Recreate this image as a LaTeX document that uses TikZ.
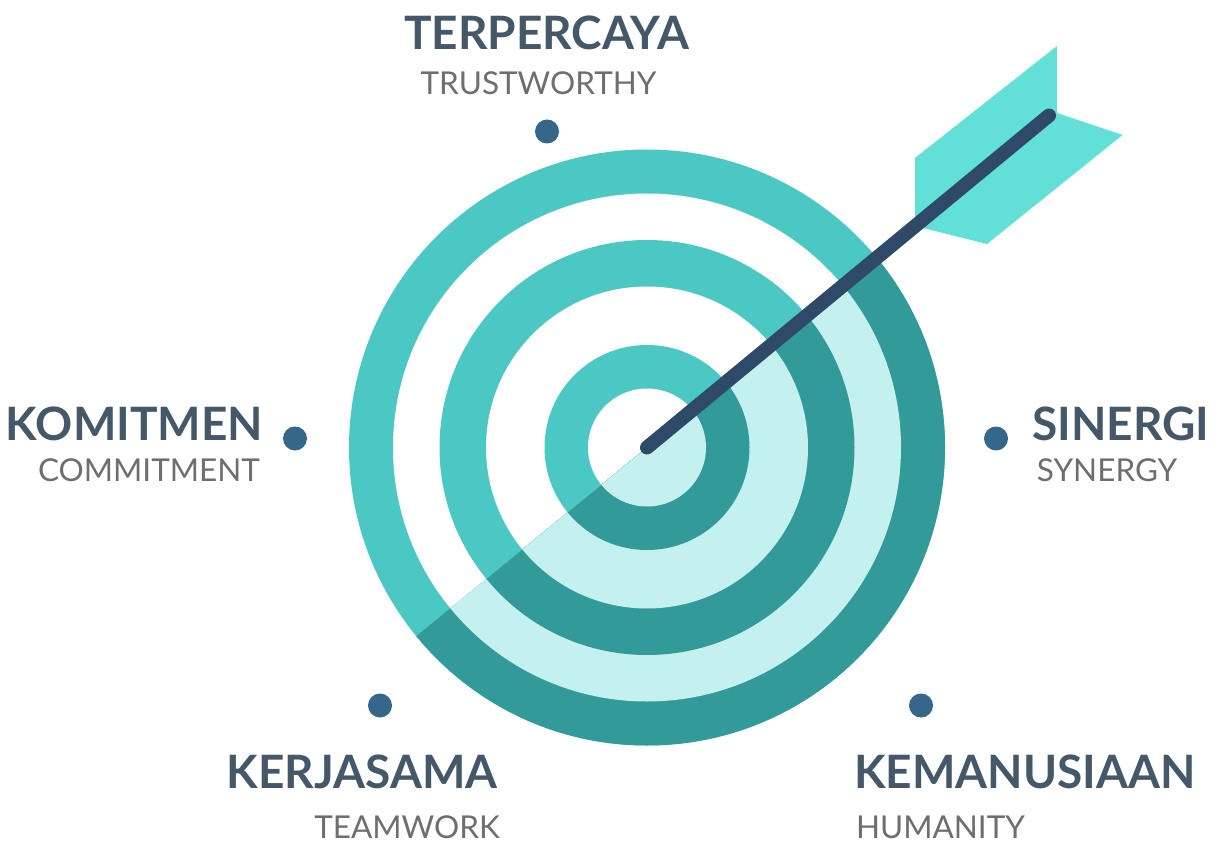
\documentclass[tikz,border=0pt]{standalone}
\usepackage{fontspec}
\setmainfont{Lato}
\usepackage{xcolor}
\definecolor{ringteal}{HTML}{4BC8C4}
\definecolor{ringdark}{HTML}{339A9A}
\definecolor{ringpale}{HTML}{C4F1EF}
\definecolor{finteal}{HTML}{62E0D8}
\definecolor{shaftblue}{HTML}{2E4A68}
\definecolor{dotblue}{HTML}{35678A}
\definecolor{headgrey}{HTML}{44586A}
\definecolor{subgrey}{HTML}{6E6E6E}
\tikzset{
  headlabel/.style={inner sep=0pt, text=headgrey, font=\fontsize{46}{46}\selectfont\bfseries},
  sublabel/.style={inner sep=0pt, text=subgrey, font=\fontsize{31.5}{31.5}\selectfont},
  dotmark/.style={circle, fill=dotblue, minimum size=24pt, inner sep=0pt},
}
\begin{document}
\begin{tikzpicture}[x=1pt,y=-1pt]
      \useasboundingbox (0,0) rectangle (1216,842);
      % upper half of the target
      \fill [ringteal] (647,447.5) circle (298pt);
      \fill [white] (647,447.5) circle (254pt);
      \fill [ringteal] (647,447.5) circle (207.5pt);
      \fill [white] (647,447.5) circle (161pt);
      \fill [ringteal] (647,447.5) circle (102.5pt);
      \fill [white] (647,447.5) circle (59pt);
      % lower half
      \begin{scope}
        \clip (167,840) -- (1127,55) -- (1216,842) -- cycle;
        \fill [ringdark] (647,447.5) circle (298pt);
        \fill [ringpale] (647,447.5) circle (254pt);
        \fill [ringdark] (647,447.5) circle (207.5pt);
        \fill [ringpale] (647,447.5) circle (161pt);
        \fill [ringdark] (647,447.5) circle (102.5pt);
        \fill [ringpale] (647,447.5) circle (59pt);
      \end{scope}
      % arrow
      \fill [finteal] (1057,46) -- (915,158) -- (915,218) -- (1057,113) -- cycle;
      \fill [finteal] (1057,113) -- (1122.5,135) -- (987,244) -- (923,228) -- cycle;
      \coordinate (tip) at (647,447.5);
      \coordinate (nock) at (1049,115.5);
      \draw [shaftblue, line width=14pt, line cap=round] (tip) -- (nock);
      % dots
      \node [dotmark] (d1) at (547,131.5) {};
      \node [dotmark] (d2) at (295,438.5) {};
      \node [dotmark] (d3) at (996,438.5) {};
      \node [dotmark] (d4) at (380,705.5) {};
      \node [dotmark] (d5) at (921,705.5) {};
      % labels
      \node [headlabel] (h1) at (546.5,33) {TERPERCAYA};
      \node [sublabel] (s1) at (538.5,83) {TRUSTWORTHY};
      \node [headlabel] (h2) at (134.5,424) {KOMITMEN};
      \node [sublabel] (s2) at (149,470) {COMMITMENT};
      \node [headlabel] (h3) at (1121,424) {SINERGI};
      \node [sublabel] (s3) at (1107,470) {SYNERGY};
      \node [headlabel] (h4) at (362,772) {KERJASAMA};
      \node [sublabel] (s4) at (407,827) {TEAMWORK};
      \node [headlabel] (h5) at (1025,772) {KEMANUSIAAN};
      \node [sublabel] (s5) at (940.5,827) {HUMANITY};
    \end{tikzpicture}
\end{document}
